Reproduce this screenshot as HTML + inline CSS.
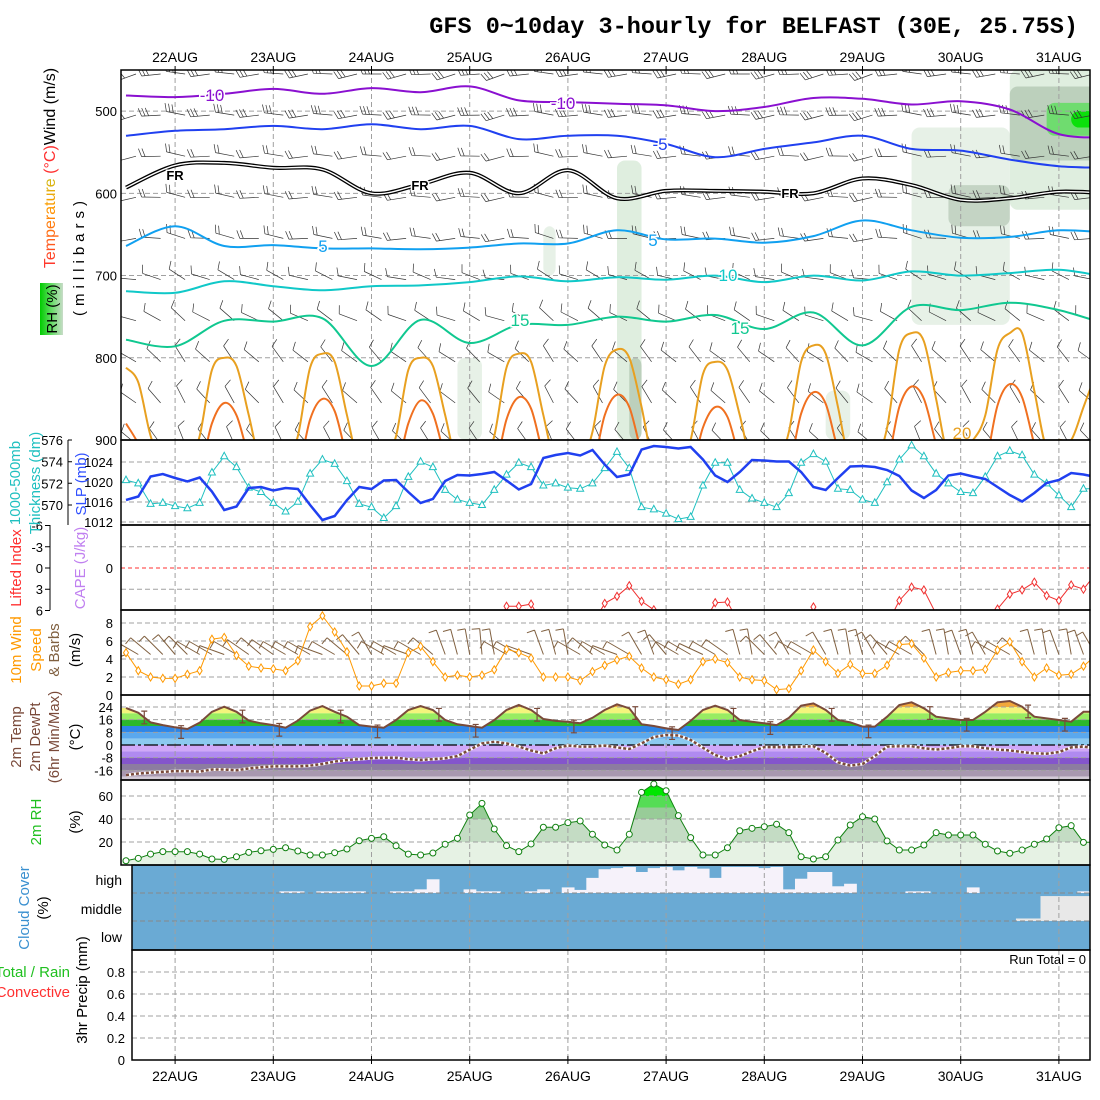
<!DOCTYPE html>
<html><head><meta charset="utf-8"><style>
html,body{margin:0;padding:0;background:#fff;}
svg{display:block;font-family:"Liberation Sans",sans-serif;}
</style></head><body>
<svg id="chart" width="1100" height="1100" viewBox="0 0 1100 1100" xmlns="http://www.w3.org/2000/svg">
<defs>
<clipPath id="cTop"><rect x="121" y="70" width="969" height="370"/></clipPath>
<clipPath id="cSlp"><rect x="121" y="440" width="969" height="85"/></clipPath>
<clipPath id="cLi"><rect x="121" y="525" width="969" height="85"/></clipPath>
<clipPath id="cWind"><rect x="121" y="610" width="969" height="85"/></clipPath>
<clipPath id="cTemp"><rect x="121" y="695" width="969" height="85"/></clipPath>
<clipPath id="cRh"><rect x="121" y="780" width="969" height="85"/></clipPath>
<clipPath id="cCloud"><rect x="132" y="865" width="958" height="85"/></clipPath>
<linearGradient id="rhBox" x1="0" x2="1"><stop offset="0" stop-color="#00cc00"/><stop offset="0.5" stop-color="#66dd66"/><stop offset="1" stop-color="#c8dcc8"/></linearGradient>
<linearGradient id="tempTxt" x1="0" x2="1"><stop offset="0" stop-color="#ff3030"/><stop offset="0.3" stop-color="#ff9900"/><stop offset="0.55" stop-color="#b0d020"/><stop offset="0.75" stop-color="#20c0c0"/><stop offset="1" stop-color="#3050ff"/></linearGradient>
</defs>
<text x="1078" y="33" text-anchor="end" font-family="Liberation Mono, monospace" font-weight="bold" font-size="23.5">GFS 0~10day 3-hourly for BELFAST (30E, 25.75S)</text>
<g id="layer"></g>
</svg>
<script>
// ---------- data ----------
const days = ["22AUG","23AUG","24AUG","25AUG","26AUG","27AUG","28AUG","29AUG","30AUG","31AUG"];
const slp = [1016.4,1017.1,1021.1,1021.6,1020.8,1020.1,1020.9,1018.1,1014.4,1015.1,1018.8,1019,1018.3,1018.8,1018.6,1015.4,1012.4,1013.2,1016.4,1019,1018.6,1020.3,1020.4,1018,1015.8,1016.6,1020.2,1021.4,1021.3,1021.6,1022,1020.3,1018.5,1019.6,1024.8,1025.4,1025.8,1025.3,1026.4,1023.5,1021,1021.5,1026.5,1027.2,1027,1026.7,1027,1024.5,1021.3,1020,1022,1024.4,1024.3,1024.1,1024.1,1022,1019,1018.4,1020.8,1023.1,1023.2,1023,1022.4,1021.2,1018.3,1016.8,1018.4,1021.3,1021.7,1021.1,1020.6,1019,1017.4,1016.1,1017.8,1019.8,1020.4,1021.8,1021.5,1021];
const thick = [572.3,572,570.1,570.2,569.9,569.7,570.2,573,574.5,573.5,571.6,571.2,570.2,569.4,570.3,572.9,574.2,573.8,572.2,570.1,569.8,568.8,569.9,572.6,574,573.5,571.4,570.5,570.2,570,571.4,572.8,573.9,573.5,571.8,572,571.6,571.5,572,573.4,574.9,573.4,569.8,569.6,569.2,568.7,568.9,571.8,573.9,573.9,571.4,570.6,570.2,569.8,571.1,573.9,574.7,574,571.5,571.4,570.5,570.2,572.1,574.2,575.5,574.5,572.9,572,571.2,571.1,572.6,574.5,575,574.6,572.8,572,570.9,569.8,571.5,571.5];
const lifted = [9,9,9,9,9,9,9,9,9,9,9,9,9,9,9,9,9,9,9,9,9,9,9,9,9,9,9,9,9,9,9,5.4,5.4,5.1,8,8,8,8,8,5.0,4.0,2.5,4.7,5.9,8,8,8,8,4.9,4.8,8,8,8,8,8,8,5.5,8,8,8,8,8,8,4.6,2.7,3.1,6.5,8,8,8,8,5.8,3.7,3.1,2.0,3.9,4.6,2.4,3.0,0.8];
const wind10 = [4.7,2.7,2.0,1.85,1.85,2.3,2.7,6.2,6.4,4.4,3.2,3.0,2.9,2.7,3.8,7.6,8.8,7.0,4.8,1.0,1.0,1.3,1.3,4.7,5.4,3.7,2.0,2.2,2.0,2.2,2.8,5.1,4.7,4.1,2.0,2.0,2.0,1.6,2.6,3.3,3.9,4.3,3.0,2.0,1.7,1.2,1.7,3.7,4.0,3.6,2.0,1.7,1.6,0.6,0.7,2.7,5.0,3.7,2.4,3.4,2.4,2.4,3.3,5.6,5.7,4.1,2.0,2.5,2.7,2.7,2.85,5.0,5.9,3.7,2.0,3.0,2.2,2.3,3.2,4.4];
const windDir10 = [250,300,310,315,320,315,300,300,290,300,305,310,305,300,300,300,290,300,310,320,330,300,300,290,300,310,340,345,350,355,350,300,300,290,340,345,350,300,310,300,290,300,330,340,320,300,300,295,300,305,345,350,315,320,330,300,300,330,345,350,345,330,320,300,300,315,345,350,340,345,330,300,300,310,345,350,340,350,340,330];
const temp2m = [23.4,20.4,14.3,12.6,11.2,10.1,14.1,21,24.2,21,15.4,13.7,12.6,10.9,15.4,21.7,24.6,21,17.9,12.6,11.6,10.9,15.8,22.1,24.6,22.1,15.8,13.1,12,10.9,15.8,22.1,25.3,22.1,16.4,15.2,14.7,13.7,17.2,22.1,25.7,23.2,13.1,12,10.5,9.5,15.2,22.1,24.8,22.1,15.8,14.7,13.7,12.6,17.2,24.8,26.3,22.1,15.8,14.3,11.6,11.6,17.9,25.3,27,23.2,17.9,16.8,15.8,15.8,21,27,27.8,24.2,17.9,16.8,15.8,14.7,21,21];
const dewpt = [-19,-18,-17.5,-17,-16.5,-16.5,-16.8,-15.5,-15.5,-16,-14.8,-14,-13.5,-13.5,-13.5,-13,-12,-10.5,-9.5,-9,-8.3,-8,-8,-9,-9.5,-9,-8.4,-7,-3,1,2,1,-1,-3.5,-5.3,-2,-0.4,-1,-1,-0.4,-1.5,-2.5,1,5,6.3,6,3.2,-1.7,-6.3,-8.8,-7,-4,-1.3,-1.3,-1.3,-1,-0.8,-5,-11,-13,-12,-7,-1,-0.8,-0.8,-2,-2.9,-2,-0.8,-0.8,-2,-2.9,-3.4,-4.5,-5.3,-5.5,-4.5,-1.5,-1,-2.3];
const rh2m = [3.7,5.8,9.5,11.6,11.6,11.6,9.5,5.2,4.9,7.2,11,12.4,13.6,15,12.2,8.7,8.7,10.7,13.9,21.1,23.2,24.6,16.7,9.5,8.7,10.4,18,23.2,43.5,53.6,31.3,16.8,11.6,18.3,32.8,32.8,36.8,38.3,26.7,17.4,13,26.7,63.2,70.4,64.6,42.9,23.8,8.7,8.7,15,29.8,31.9,33.3,35.4,28.1,7.2,5.2,7.2,21.7,34.8,42,40,20.9,13,13,17.4,28.1,26.1,26.1,26.1,18,12.2,10.2,13,18,22.6,32.4,34.2,19.7,19.7];
const highCloud = [100,100,100,100,100,100,100,100,100,100,100,100,100,94,94,100,94,94,94,94,100,100,94,94,87,51,100,100,87,94,94,100,100,94,87,100,80,89,46,15,11,7,25,11,7,19,7,13,46,7,7,7,11,7,87,49,25,25,76,67,100,100,100,100,94,94,100,100,100,80,100,100,100,100,100,100,100,100,94,94];
const midCloud = [100,100,100,100,100,100,100,100,100,100,100,100,100,100,100,100,100,100,100,100,100,100,100,100,100,100,100,100,100,100,100,100,100,100,100,100,100,100,100,100,100,100,100,100,100,100,100,100,100,100,100,100,100,100,100,100,100,100,100,100,100,100,100,100,100,100,100,100,100,100,100,100,100,91,91,11,11,11,11,11];
const precipTicks = [0,0.2,0.4,0.6,0.8];
// upper-air isotherms: pressure (mb) sampled every 4 time steps
const isoM10 = [481,483,479,473,479,472,477,470,487,489,491,493,500,495,484,485,492,488,498,528,532];
const isoM5 = [530,524,522,518,522,516,522,518,534,530,530,540,556,546,538,530,546,548,559,567,569];
const isoFR = [593,566,563,569,571,600,589,575,600,572,606,597,597,598,600,582,590,608,606,598,600];
const iso5 = [664,640,664,663,667,667,668,666,661,661,645,656,655,660,652,633,645,654,653,645,648];
const iso10 = [719,721,707,713,718,713,712,708,701,707,702,705,700,708,700,706,695,700,697,693,702];
const iso15 = [778,786,755,756,752,810,754,782,760,760,750,756,748,765,745,785,738,742,733,742,760];
// low-level warm isotherms, every time step (values >900 are below the panel)
const iso20 = [812,830,895,930,930,930,895,815,800,810,870,930,930,930,895,812,795,805,870,930,930,930,895,815,800,810,870,930,930,930,895,812,795,805,870,930,930,930,890,810,790,800,860,930,930,930,900,820,805,815,870,930,930,930,890,805,785,795,860,930,930,930,885,790,770,780,850,920,910,900,870,790,770,770,840,910,900,900,860,820];
const iso25 = [880,905,945,950,950,950,940,880,855,870,920,950,950,950,940,875,850,865,920,950,950,950,940,880,852,868,920,950,950,950,940,875,848,862,918,950,950,950,935,870,845,860,915,950,950,950,942,885,860,872,922,950,950,950,935,868,842,856,912,950,950,950,930,860,835,850,905,950,950,950,930,858,832,848,905,950,950,950,925,900];
const pLevels = [500,600,700,800,900];
const barbLevels = [450,500,550,600,650,700,750,800,850,900];
const barbDirs = [265,268,270,272,275,290,300,315,320,325];
const barbFlags = [3,3,2,2,2,1,1,1,1,1];
const slpTicks = [1012,1016,1020,1024];
const thickTicks = [570,572,574,576];
const liTicks = [-6,-3,0,3,6];
const windTicks = [0,2,4,6,8];
const tempTicks = [24,16,8,0,-8,-16];
const rhTicks = [20,40,60];
const tempBands = [[24,40,"#f2a83a"],[20,24,"#f4f47c"],[16,20,"#98ec62"],[12,16,"#2cb82c"],[8,12,"#2e86e8"],[4,8,"#5aa8ee"],[0,4,"#8ccaf0"],[-4,0,"#d0a8f8"],[-8,-4,"#b08af0"],[-12,-8,"#8455cc"],[-16,-12,"#8c7ca0"],[-20,-16,"#a898b0"],[-30,-20,"#d2cad6"]];
const rhBands = [[0,20,"#e6f2e4"],[20,40,"#c4dcc4"],[40,50,"#98cc98"],[50,60,"#55dd55"],[60,100,"#00e600"]];
// RH shading in upper panel: [startIndex, endIndex, topP, bottomP, colour]
const rhShade = [[40,42,560,900,"#dcecdc"],[41,42,800,900,"#b8ccb8"],[64,72,520,760,"#e4f0e4"],[67,72,590,640,"#c0d0c0"],[72,80,450,620,"#dcecdc"],[72,80,470,560,"#b8ccb8"],[75,80,490,530,"#66dd66"],[77,80,500,520,"#00e000"],[27,29,800,900,"#e4f0e4"],[34,35,640,700,"#e4f0e4"],[57,59,840,900,"#e4f0e4"]];

// ---------- axes ----------
const X0 = 126, DX = 12.275;
function x(i){ return X0 + DX*i; }
function dayX(d){ return x(4 + 8*d); }
function yP(p){ return 70 + (p-450)*0.8222; }
function ySlp(v){ return 522 - (v-1012)*5; }
function yTh(v){ return 505 - (v-570)*10.83; }
function yLi(v){ return 568 + v*7.08; }
function yW(v){ return 695 - v*9; }
function yT(v){ return 745 - v*1.583; }
function yRh(v){ return 865 - v*1.15; }
function yPr(v){ return 1060 - v*110; }

const NS = "http://www.w3.org/2000/svg";
const root = document.getElementById("layer");
function el(tag, attrs, parent){
  const e = document.createElementNS(NS, tag);
  for (const k in attrs) e.setAttribute(k, attrs[k]);
  (parent||root).appendChild(e);
  return e;
}
function group(name, clip){
  const g = el("g", clip ? {"clip-path":"url(#"+clip+")"} : {});
  
  
  return g;
}
function txt(s, attrs, parent, name){
  const t = el("text", attrs, parent);
  t.textContent = s;
  
  
  return t;
}
function pts(arr, fy){ return arr.map((v,i)=>x(i).toFixed(1)+","+fy(v).toFixed(1)).join(" "); }
function smoothPath(P){
  let d = "M"+P[0][0].toFixed(1)+","+P[0][1].toFixed(1);
  for (let k=0;k<P.length-1;k++){
    const p0=P[Math.max(k-1,0)],p1=P[k],p2=P[k+1],p3=P[Math.min(k+2,P.length-1)];
    const c1=[p1[0]+(p2[0]-p0[0])/6,p1[1]+(p2[1]-p0[1])/6];
    const c2=[p2[0]-(p3[0]-p1[0])/6,p2[1]-(p3[1]-p1[1])/6];
    d+=" C"+c1[0].toFixed(1)+","+c1[1].toFixed(1)+" "+c2[0].toFixed(1)+","+c2[1].toFixed(1)+" "+p2[0].toFixed(1)+","+p2[1].toFixed(1);
  }
  return d;
}
const GRID = {stroke:"#a0a0a0","stroke-width":1,"stroke-dasharray":"5,3"};

// ---------- upper panel ----------
const gTop = group("upper-air-panel","cTop");
rhShade.forEach(s=>{
  const r = el("rect",{x:x(s[0]),y:yP(s[2]),width:x(s[1])-x(s[0]),height:yP(s[3])-yP(s[2]),rx:8,fill:s[4],opacity:0.9},gTop);
  
  
});
pLevels.slice(0,4).forEach(p=>{ const l=el("line",Object.assign({x1:121,x2:1090,y1:yP(p),y2:yP(p)},GRID),gTop);   });
for(let d=0;d<10;d++){ const l=el("line",Object.assign({x1:dayX(d),x2:dayX(d),y1:70,y2:440},GRID),gTop);   }
// barbs
barbLevels.forEach((p,li)=>{
  for(let i=0;i<80;i+=2){
    const th = (barbDirs[li] + ((i*37)%30) - 15) * Math.PI/180;
    const sx = Math.sin(th), sy = -Math.cos(th);
    const bx = x(i)+10, by = yP(p)+4;
    const ex = bx + sx*19, ey = by + sy*19;
    let d = "M"+bx.toFixed(1)+","+by.toFixed(1)+" L"+ex.toFixed(1)+","+ey.toFixed(1);
    for(let f=0;f<barbFlags[li];f++){
      const fx = ex - sx*3.5*f, fy = ey - sy*3.5*f;
      d += " M"+fx.toFixed(1)+","+fy.toFixed(1)+" L"+(fx - sy*8 + sx*3).toFixed(1)+","+(fy + sx*8 + sy*3).toFixed(1);
    }
    const b = el("path",{d:d,stroke:"#333",fill:"none","stroke-width":0.7},gTop);
    
    
  }
});
function isoLine(arr, step, color, w, name){
  const P = arr.map((p,k)=>[x(k*step), yP(p)]);
  const path = el("path",{d:smoothPath(P),stroke:color,fill:"none","stroke-width":w},gTop);
  
  
  return path;
}
isoLine(isoM10,4,"#8a10d0",2,"isotherm-minus10");
isoLine(isoM5,4,"#2040f0",2,"isotherm-minus5");
isoLine(isoFR,4,"#000",4,"freezing-level-outer");
isoLine(isoFR,4,"#fff",1.4,"freezing-level-inner");
isoLine(iso5,4,"#10a0f0",2,"isotherm-5");
isoLine(iso10,4,"#10c8c8",2,"isotherm-10");
isoLine(iso15,4,"#10c890",2,"isotherm-15");
isoLine(iso20,1,"#e8a020",2,"isotherm-20");
isoLine(iso25,1,"#f07020",2,"isotherm-25");
[["-10",212,101,"#8a10d0"],["-10",563,109,"#8a10d0"],["-5",660,150,"#2040f0"],["5",323,252,"#10a0f0"],["5",653,246,"#10a0f0"],["10",728,281,"#10c8c8"],["15",520,326,"#10c890"],["15",740,334,"#10c890"],["20",962,439,"#e8a020"]].forEach(l=>{
  txt(l[0],{x:l[1],y:l[2],fill:l[3],"font-size":17,"text-anchor":"middle",stroke:"#fff","stroke-width":3,"paint-order":"stroke"},gTop,"isotherm-label");
});
[[175,180],[420,190],[790,198]].forEach(l=>txt("FR",{x:l[0],y:l[1],"font-size":13,"font-weight":"bold","text-anchor":"middle",fill:"#000",stroke:"#fff","stroke-width":3,"paint-order":"stroke"},gTop,"freezing-level-label"));

// ---------- SLP / thickness ----------
const gS = group("slp-panel","cSlp");
slpTicks.forEach(v=>{ const l=el("line",Object.assign({x1:121,x2:1090,y1:ySlp(v),y2:ySlp(v)},GRID),gS);   });
for(let d=0;d<10;d++){ const l=el("line",Object.assign({x1:dayX(d),x2:dayX(d),y1:440,y2:525},GRID),gS);   }
const thl = el("polyline",{points:pts(thick,yTh),fill:"none",stroke:"#20c0c0","stroke-width":1},gS);
 
thick.forEach((v,i)=>{ const cx=x(i),cy=yTh(v); const m=el("path",{d:"M"+cx+","+(cy-4)+" L"+(cx+3.5)+","+(cy+2.5)+" L"+(cx-3.5)+","+(cy+2.5)+"Z",fill:"#fff",stroke:"#20c0c0","stroke-width":1},gS);   });
const sl = el("polyline",{points:pts(slp,ySlp),fill:"none",stroke:"#2040f0","stroke-width":2.5},gS);
 

// ---------- Lifted index ----------
const gL = group("lifted-index-panel","cLi");
[-3,3].forEach(v=>{ const l=el("line",Object.assign({x1:121,x2:1090,y1:yLi(v),y2:yLi(v)},GRID),gL);   });
for(let d=0;d<10;d++){ const l=el("line",Object.assign({x1:dayX(d),x2:dayX(d),y1:525,y2:610},GRID),gL);   }
const zl = el("line",{x1:121,x2:1090,y1:yLi(0),y2:yLi(0),stroke:"#ff3030","stroke-width":1,"stroke-dasharray":"4,3"},gL);
 
const ll = el("polyline",{points:pts(lifted,yLi),fill:"none",stroke:"#f03030","stroke-width":1},gL);
 
lifted.forEach((v,i)=>{ if(v>6.5) return; const cx=x(i),cy=yLi(v); const m=el("path",{d:"M"+cx+","+(cy-4)+" L"+(cx+2.5)+","+cy+" L"+cx+","+(cy+4)+" L"+(cx-2.5)+","+cy+"Z",fill:"#fff",stroke:"#f03030"},gL);   });

// ---------- 10m wind ----------
const gW = group("wind-panel","cWind");
[2,4,6,8].forEach(v=>{ const l=el("line",Object.assign({x1:121,x2:1090,y1:yW(v),y2:yW(v)},GRID),gW);   });
for(let d=0;d<10;d++){ const l=el("line",Object.assign({x1:dayX(d),x2:dayX(d),y1:610,y2:695},GRID),gW);   }
windDir10.forEach((dir,i)=>{
  const th = dir*Math.PI/180, sx=Math.sin(th), sy=-Math.cos(th);
  const bx=x(i), by=yW(4.5);
  const ex=bx+sx*26, ey=by+sy*26;
  const d="M"+bx.toFixed(1)+","+by.toFixed(1)+" L"+ex.toFixed(1)+","+ey.toFixed(1)+" M"+ex.toFixed(1)+","+ey.toFixed(1)+" L"+(ex+sy*8).toFixed(1)+","+(ey-sx*8).toFixed(1);
  const b=el("path",{d:d,stroke:"#806040","stroke-width":1,fill:"none"},gW);
   
});
const wl = el("polyline",{points:pts(wind10,yW),fill:"none",stroke:"#ff9900","stroke-width":1},gW);
 
wind10.forEach((v,i)=>{ const cx=x(i),cy=yW(v); const m=el("path",{d:"M"+cx+","+(cy-4)+" L"+(cx+2.5)+","+cy+" L"+cx+","+(cy+4)+" L"+(cx-2.5)+","+cy+"Z",fill:"#fff",stroke:"#ff9900"},gW);   });

// ---------- Temperature ----------
const gT = group("temperature-panel","cTemp");
tempBands.forEach(b=>{ const r=el("rect",{x:121,width:969,y:yT(b[1]),height:yT(b[0])-yT(b[1]),fill:b[2]},gT);   });
let tp = "M121,690 L121,"+yT(temp2m[0]).toFixed(1);
temp2m.forEach((v,i)=>{ tp += " L"+x(i).toFixed(1)+","+yT(v).toFixed(1); });
tp += " L1095,"+yT(temp2m[temp2m.length-1]).toFixed(1)+" L1095,690 Z";
const wt = el("path",{d:tp,fill:"#fff"},gT);  
[24,16,8,-8,-16].forEach(v=>{ const l=el("line",Object.assign({x1:121,x2:1090,y1:yT(v),y2:yT(v)},GRID),gT);   });
for(let d=0;d<10;d++){ const l=el("line",Object.assign({x1:dayX(d),x2:dayX(d),y1:695,y2:780},GRID),gT);   }
const z0 = el("line",{x1:121,x2:1090,y1:yT(0),y2:yT(0),stroke:"#000","stroke-width":1.3,"stroke-dasharray":"14,3,3,3"},gT);
 
const tl = el("polyline",{points:pts(temp2m,yT),fill:"none",stroke:"#7a4a3a","stroke-width":2},gT);
 
const dl1 = el("polyline",{points:pts(dewpt,yT),fill:"none",stroke:"#fff","stroke-width":3},gT);
 
const dl = el("polyline",{points:pts(dewpt,yT),fill:"none",stroke:"#7a4a3a","stroke-width":2.5,"stroke-dasharray":"3,2"},gT);
 
temp2m.forEach((v,i)=>{ if(i%8!==1 && i%8!==4) return; const cx=x(i)+6, y1=yT(v+1), y2=yT(v-7); const m=el("path",{d:"M"+cx+","+y1+" L"+cx+","+y2+" M"+(cx-3)+","+y1+" L"+(cx+3)+","+y1+" M"+(cx-3)+","+y2+" L"+(cx+3)+","+y2,stroke:"#7a4a3a","stroke-width":1.2,fill:"none"},gT);   });

// ---------- RH ----------
const gR = group("rh-panel","cRh");
const rhClipPath = el("clipPath",{id:"rhArea"},document.querySelector("defs"));
let rp = "M121,865 L121,"+yRh(rh2m[0]).toFixed(1);
rh2m.forEach((v,i)=>{ rp += " L"+x(i).toFixed(1)+","+yRh(v).toFixed(1); });
rp += " L1095,"+yRh(rh2m[rh2m.length-1]).toFixed(1)+" L1095,865 Z";
el("path",{d:rp},rhClipPath);
const gRa = el("g",{"clip-path":"url(#rhArea)"},gR);
 
rhBands.forEach(b=>{ const r=el("rect",{x:121,width:969,y:yRh(b[1]),height:yRh(b[0])-yRh(b[1]),fill:b[2]},gRa);   });
rhTicks.forEach(v=>{ const l=el("line",Object.assign({x1:121,x2:1090,y1:yRh(v),y2:yRh(v)},GRID),gR);   });
for(let d=0;d<10;d++){ const l=el("line",Object.assign({x1:dayX(d),x2:dayX(d),y1:780,y2:865},GRID),gR);   }
const rl = el("polyline",{points:pts(rh2m,yRh),fill:"none",stroke:"#108010","stroke-width":1},gR);
 
rh2m.forEach((v,i)=>{ const c=el("circle",{cx:x(i),cy:yRh(v),r:3,fill:"#fff",stroke:"#108010"},gR);   });

// ---------- Cloud ----------
const gC = group("cloud-panel","cCloud");
const cbg = el("rect",{x:132,y:865,width:958,height:85,fill:"#6aaad4"},gC);
 
highCloud.forEach((v,i)=>{ if(v>=100) return; const h=(100-v)/100*28; const r=el("rect",{x:x(i)-DX/2,width:DX+0.5,y:893-h,height:h,fill:"#f6f2fa"},gC);   });
midCloud.forEach((v,i)=>{ if(v>=100) return; const h=(100-v)/100*28; const r=el("rect",{x:x(i)-DX/2,width:DX+0.5,y:921-h,height:h,fill:"#e8e8e8"},gC);   });
[893,921].forEach(y=>{ const l=el("line",{x1:132,x2:1090,y1:y,y2:y,stroke:"#888","stroke-width":1,"stroke-dasharray":"5,3"},gC);   });
for(let d=0;d<10;d++){ const l=el("line",Object.assign({x1:dayX(d),x2:dayX(d),y1:865,y2:950},GRID),gC);   }

// ---------- Precip ----------
const gPr = group("precip-panel");
precipTicks.slice(1).forEach(v=>{ const l=el("line",Object.assign({x1:132,x2:1090,y1:yPr(v),y2:yPr(v)},GRID),gPr);   });
for(let d=0;d<10;d++){ const l=el("line",Object.assign({x1:dayX(d),x2:dayX(d),y1:950,y2:1060},GRID),gPr);   }
txt("Run Total = 0",{x:1086,y:964,"text-anchor":"end","font-size":13},gPr,"run-total-label");

// ---------- frames ----------
const gF = group("frames");
[[121,70,969,370],[121,440,969,85],[121,525,969,85],[121,610,969,85],[121,695,969,85],[121,780,969,85],[132,865,958,85],[132,950,958,110]].forEach(r=>{
  const f=el("rect",{x:r[0],y:r[1],width:r[2],height:r[3],fill:"none",stroke:"#000","stroke-width":1.5},gF);
   
});
// day labels & ticks
const gD = group("time-axis");
days.forEach((s,d)=>{
  txt(s,{x:dayX(d),y:62,"text-anchor":"middle","font-size":14},gD,"top-date-label");
  txt(s,{x:dayX(d),y:1081,"text-anchor":"middle","font-size":14},gD,"bottom-date-label");
  const t1=el("line",{x1:dayX(d),x2:dayX(d),y1:66,y2:74,stroke:"#000"},gD);  
  const t2=el("line",{x1:dayX(d),x2:dayX(d),y1:1056,y2:1064,stroke:"#000"},gD);  
});
// y tick labels
const gY = group("y-axes");
const FS = 13;
pLevels.forEach(p=>txt(String(p),{x:117,y:yP(p)+5,"text-anchor":"end","font-size":FS},gY,"pressure-tick-label"));
slpTicks.forEach(v=>txt(String(v),{x:113,y:ySlp(v)+5,"text-anchor":"end","font-size":FS},gY,"slp-tick-label"));
thickTicks.forEach(v=>txt(String(v),{x:63,y:yTh(v)+5,"text-anchor":"end","font-size":FS},gY,"thickness-tick-label"));
const ta=el("path",{d:"M68,440 L68,525 "+thickTicks.map(v=>"M68,"+yTh(v).toFixed(1)+" L72,"+yTh(v).toFixed(1)).join(" "),stroke:"#000",fill:"none"},gY);  
liTicks.forEach(v=>txt(String(v),{x:43,y:yLi(v)+5,"text-anchor":"end","font-size":FS},gY,"li-tick-label"));
const la=el("path",{d:"M50,525 L50,610 "+liTicks.map(v=>"M45,"+yLi(v).toFixed(1)+" L50,"+yLi(v).toFixed(1)).join(" "),stroke:"#000",fill:"none"},gY);  
txt("0",{x:113,y:yLi(0)+5,"text-anchor":"end","font-size":FS},gY,"cape-tick-label");
windTicks.forEach(v=>txt(String(v),{x:113,y:yW(v)+5,"text-anchor":"end","font-size":FS},gY,"wind-tick-label"));
tempTicks.forEach(v=>txt(String(v),{x:113,y:yT(v)+5,"text-anchor":"end","font-size":FS},gY,"temp-tick-label"));
rhTicks.forEach(v=>txt(String(v),{x:113,y:yRh(v)+5,"text-anchor":"end","font-size":FS},gY,"rh-tick-label"));
[["high",885],["middle",914],["low",942]].forEach(c=>txt(c[0],{x:122,y:c[1],"text-anchor":"end","font-size":14},gY,"cloud-level-label"));
precipTicks.forEach(v=>txt(v===0?"0":v.toFixed(1),{x:125,y:yPr(v)+5,"text-anchor":"end","font-size":FS},gY,"precip-tick-label"));
// rotated axis titles
const gTt = group("axis-titles");
function vt(s, cx, cy, color, name, size, extra){
  const a = Object.assign({x:0,y:0,transform:"translate("+cx+","+cy+") rotate(-90)","text-anchor":"middle","font-size":size||15,fill:color},extra||{});
  return txt(s,a,gTt,name);
}
const t1 = vt("",55,168,"#000","upper-axis-title",16);
t1.innerHTML = '<tspan fill="url(#tempTxt)">Temperature</tspan><tspan fill="#ff3030"> (°C)</tspan><tspan fill="#000">Wind (m/s)</tspan>';
const rb = el("rect",{x:40,y:283,width:23,height:52,fill:"url(#rhBox)"},gTt);  
vt("RH (%)",57,309,"#000","rh-legend-title",15);
vt("(millibars)",84,256,"#000","pressure-axis-title",15,{"letter-spacing":"5"});
vt("1000-500mb",20,483,"#20c0c0","thickness-title-1",15);
vt("Thickness (dm)",40,483,"#20c0c0","thickness-title-2",15);
vt("SLP (mb)",86,484,"#3050ff","slp-title",15);
vt("Lifted Index",21,568,"#ff3030","lifted-index-title",15);
vt("CAPE (J/kg)",85,568,"#c080f0","cape-title",15);
vt("10m Wind",21,650,"#ff9900","wind-title-1",15);
vt("Speed",41,650,"#ff9900","wind-title-2",15);
vt("& Barbs",59,650,"#806040","wind-title-3",15);
vt("(m/s)",80,650,"#000","wind-units",15);
vt("2m Temp",21,737,"#7a4a3a","temp-title",15);
vt("2m DewPt",40,737,"#7a4a3a","dewpt-title",15);
vt("(6hr Min/Max)",59,737,"#7a4a3a","minmax-title",15);
vt("(°C)",80,737,"#000","temp-units",15);
vt("2m RH",41,822,"#20c020","rh-title",15);
vt("(%)",80,822,"#000","rh-units",15);
vt("Cloud Cover",29,908,"#3a90d0","cloud-title",15);
vt("(%)",48,908,"#000","cloud-units",15);
vt("3hr Precip (mm)",87,990,"#000","precip-title",15);
txt("Total / Rain",{x:70,y:977,"text-anchor":"end","font-size":15,fill:"#20c020"},gTt,"precip-total-legend");
txt("Convective",{x:70,y:997,"text-anchor":"end","font-size":15,fill:"#ff3030"},gTt,"precip-convective-legend");
</script>
</body></html>
